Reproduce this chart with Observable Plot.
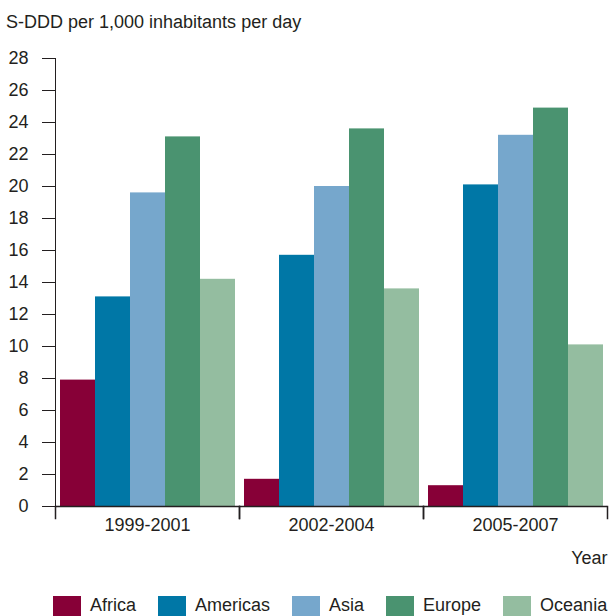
<!DOCTYPE html>
<html><head><meta charset="utf-8">
<script src="https://cdn.jsdelivr.net/npm/d3@7"></script>
<script src="https://cdn.jsdelivr.net/npm/@observablehq/plot@0.6"></script>
<style>
body{margin:0;background:#fff;font-family:"Liberation Sans",Arial,sans-serif;color:#231f20;}
#wrap{position:relative;width:610px;height:616px;overflow:hidden;}
#title{position:absolute;left:6px;top:13px;font-size:18px;line-height:18px;white-space:nowrap;}
#chart{position:absolute;left:0;top:40px;}
#legend{position:absolute;left:53px;top:596px;display:flex;white-space:nowrap;font-size:18px;line-height:18px;}
.item{display:flex;align-items:flex-start;margin-right:22px;}
.sw{width:28px;height:22px;margin-right:9px;}
</style></head>
<body>
<div id="wrap">
  <div id="title">S-DDD per 1,000 inhabitants per day</div>
  <div id="chart"></div>
  <div id="legend"></div>
</div>
<script>
const periods = ["1999-2001", "2002-2004", "2005-2007"];
const regions = ["Africa", "Americas", "Asia", "Europe", "Oceania"];
const africa   = [7.9, 1.7, 1.3];
const americas = [13.1, 15.7, 20.1];
const asia     = [19.6, 20.0, 23.2];
const europe   = [23.1, 23.6, 24.9];
const oceania  = [14.2, 13.6, 10.1];
const yTicks = [0, 2, 4, 6, 8, 10, 12, 14, 16, 18, 20, 22, 24, 26, 28];
const colors = ["#870037", "#0077a6", "#76a7cc", "#4a9370", "#94bda0"];

const series = [africa, americas, asia, europe, oceania];
const data = periods.flatMap((p, i) => regions.map((r, j) => ({period: p, region: r, value: series[j][i]})));

const ink = "#231f20";
const chart = Plot.plot({
  width: 610, height: 540,
  marginTop: 18, marginBottom: 74, marginLeft: 54, marginRight: 2,
  style: {fontFamily: '"Liberation Sans",Arial,sans-serif', fontSize: "18px", color: ink, background: "#fff"},
  fx: {domain: periods, padding: 0, axis: "bottom", tickSize: 0, tickPadding: 12, label: "Year", labelAnchor: "right", labelOffset: 57},
  x: {domain: regions, axis: null, paddingInner: 0, paddingOuter: 0.12},
  y: {domain: [0, 28], ticks: yTicks, tickSize: 13, tickPadding: 14, line: true, label: null},
  color: {domain: regions, range: colors},
  marks: [
    Plot.barY(data, {fx: "period", x: "region", y: "value", fill: "region"}),
    Plot.ruleY([0], {stroke: ink, strokeWidth: 1.5}),
    Plot.frame({anchor: "left", insetTop: 448, insetBottom: -12, stroke: ink, strokeWidth: 1.5}),
    Plot.frame({anchor: "right", insetTop: 448, insetBottom: -12, stroke: ink, strokeWidth: 1.5})
  ]
});
document.getElementById("chart").appendChild(chart);

const legend = document.getElementById("legend");
regions.forEach((r, i) => {
  const item = document.createElement("div");
  item.className = "item";
  const sw = document.createElement("div");
  sw.className = "sw";
  sw.style.background = colors[i];
  const t = document.createElement("span");
  t.textContent = r;
  item.appendChild(sw); item.appendChild(t);
  legend.appendChild(item);
});
</script>
</body></html>
